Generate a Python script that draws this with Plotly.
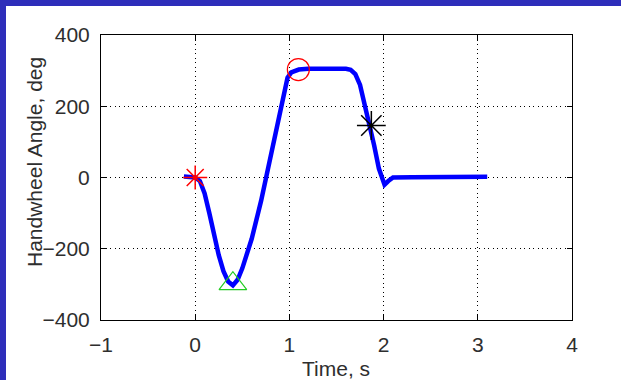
import plotly.graph_objects as go

# ---- data ----
time_s = [-0.12, 0.0, 0.05, 0.1, 0.15, 0.2, 0.25, 0.3, 0.35, 0.4, 0.45, 0.5,
          0.6, 0.7, 0.8, 0.9, 0.98, 1.02, 1.1, 1.2, 1.3, 1.4, 1.5, 1.6, 1.65,
          1.7, 1.75, 1.8, 1.85, 1.9, 1.95, 1.98, 2.01, 2.05, 2.1, 2.3, 2.6, 2.9, 3.1]
angle_deg = [3, 0, -10, -45, -100, -162, -218, -263, -292, -303, -287, -255,
             -172, -65, 55, 170, 280, 295, 303, 305, 305, 304, 306, 305, 302,
             290, 260, 205, 153, 90, 25, 0, -20, -10, 0, 1, 1, 2, 2]

start_pt = (0.0, 0.0)
min_pt = (0.4, -298)
peak_pt = (1.095, 303)
return_pt = (1.87, 146)

x_ticks = [-1, 0, 1, 2, 3, 4]
y_ticks = [-400, -200, 0, 200, 400]

FONT = "Liberation Sans, Arial, sans-serif"
TXT = "#2e2e2e"
BORDER = "rgb(46,46,186)"
BW = 6  # border width in px (top and left only)

fig = go.Figure()
fig.add_trace(go.Scatter(x=time_s, y=angle_deg, mode="lines",
                         line=dict(color="#0000FF", width=4.5), showlegend=False))
fig.add_trace(go.Scatter(x=[start_pt[0]], y=[start_pt[1]], mode="markers",
                         marker=dict(symbol="asterisk-open", size=20, color="#FF0000",
                                     line=dict(color="#FF0000", width=1.5)),
                         showlegend=False))
fig.add_trace(go.Scatter(x=[min_pt[0]], y=[min_pt[1]], mode="markers",
                         marker=dict(symbol="triangle-up-open", size=24, color="#22CC22",
                                     line=dict(color="#22CC22", width=1.2)),
                         showlegend=False))
fig.add_trace(go.Scatter(x=[peak_pt[0]], y=[peak_pt[1]], mode="markers",
                         marker=dict(symbol="circle-open", size=22, color="#FF0000",
                                     line=dict(color="#FF0000", width=1.2)),
                         showlegend=False))
fig.add_trace(go.Scatter(x=[return_pt[0]], y=[return_pt[1]], mode="markers",
                         marker=dict(symbol="asterisk-open", size=24, color="#000000",
                                     line=dict(color="#000000", width=1.5)),
                         showlegend=False))

# page-pixel layout (page is 621x380; figure sits inside a 6px top/left border)
PL, PR, PT, PB = 101, 49, 35, 60
W, H = 621 - BW, 380 - BW
L, R, T, B = PL - BW, PR, PT - BW, PB
pw, ph = W - L - R, H - T - B

def px_x(p):  # page x -> paper
    return (p - BW - L) / pw

def px_y(p):  # page y -> paper
    return (H - B - (p - BW)) / ph

axis_common = dict(
    showline=True, linecolor="black", linewidth=1, mirror="ticks",
    ticks="inside", ticklen=5, tickcolor="black",
    showgrid=True, gridcolor="black", gridwidth=1, griddash="1px,3.5px",
    zeroline=False, tickfont=dict(family=FONT, size=21, color=TXT),
)

fig.update_layout(
    width=W, height=H,
    margin=dict(l=L, r=R, t=T, b=B),
    paper_bgcolor="white",
    plot_bgcolor="white",
    xaxis=dict(range=[-1, 4], tickvals=x_ticks, ticklabelstandoff=6, **axis_common),
    yaxis=dict(range=[-400, 400], tickvals=y_ticks, ticklabelstandoff=6, **axis_common),
    annotations=[
        dict(text="Time, s", xref="paper", yref="paper", x=px_x(336), y=px_y(368),
             showarrow=False, xanchor="center", yanchor="middle",
             font=dict(family=FONT, size=21, color=TXT)),
        dict(text="Handwheel Angle, deg", xref="paper", yref="paper",
             x=px_x(34), y=px_y(162), textangle=-90, showarrow=False,
             xanchor="center", yanchor="middle",
             font=dict(family=FONT, size=21, color=TXT)),
    ],
)

post = (
    "document.body.style.margin='0';"
    "document.body.style.overflow='hidden';"
    "var d=document.getElementById('{plot_id}');"
    "d.style.borderTop='%dpx solid %s';"
    "d.style.borderLeft='%dpx solid %s';" % (BW, BORDER, BW, BORDER)
)

fig.write_html("out.html", post_script=post)
